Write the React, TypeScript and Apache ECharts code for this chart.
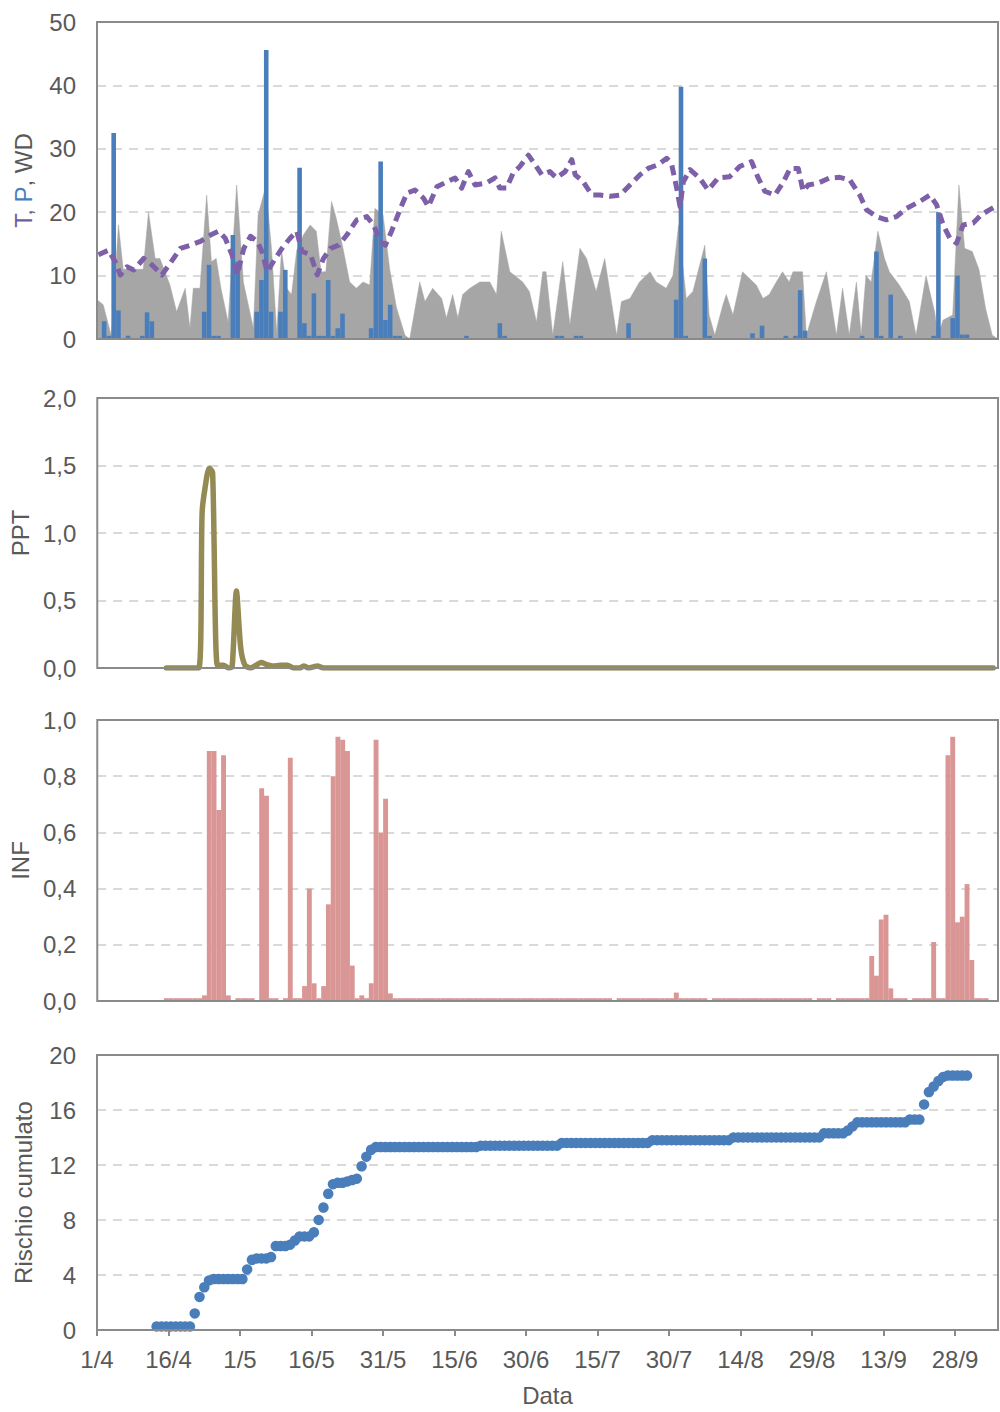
import React, { useEffect, useRef } from "react";
import * as echarts from "echarts";

// x axis: days counted from 1/4
const X_TICK_LABELS = ["1/4", "16/4", "1/5", "16/5", "31/5", "15/6", "30/6", "15/7", "30/7", "14/8", "29/8", "13/9", "28/9"];
const TICK_STEP_DAYS = 15;
const X_MAX_DAY = 189;

// WD (grey area): [day position, value]
const WD_POINTS: [number, number][] = [
  [0, 6.2], [1.3, 5.4], [3, 0.5], [4.5, 18], [5.5, 11], [7.6, 11], [9.7, 11], [10.8, 20], [12.2, 12.7], [13.2, 12.7],
  [15.3, 8.5], [16.7, 4.3], [18.5, 8], [19.5, 1.7], [20.2, 8], [21.6, 8], [23, 22.7], [24, 12.2], [25, 12.7], [26, 8],
  [27.5, 2.7], [29.3, 24.3], [30.7, 9], [32.8, 1.7], [33.8, 19.6], [35.4, 24], [36.6, 14.3], [37.7, 1], [38.7, 14], [39.8, 8],
  [40.8, 7], [41.9, 14], [43.3, 16.4], [44.7, 18], [46, 17], [47, 10.6], [48, 10.6], [49.2, 21.7], [50.2, 19], [51.6, 14.3],
  [53, 9], [54.4, 8], [55.8, 9], [57.2, 8.5], [58.3, 20.6], [60, 19.6], [61.4, 11], [62.8, 5], [64.6, 0.6], [65.6, 0],
  [67.7, 9], [68.8, 5.9], [70.4, 8], [72.3, 6.4], [73.3, 3.3], [74.6, 7], [75.7, 3.3], [76.7, 7], [78.2, 8], [80.3, 9],
  [82.4, 9], [83.8, 7], [84.8, 17], [86.6, 10.6], [89.3, 9], [90.7, 7.5], [92.2, 2.7], [93.5, 10.6], [94.2, 10.6], [95.6, 0.6],
  [97.7, 12.2], [99.2, 2.2], [101.3, 14.3], [102.7, 12.7], [104.7, 7.5], [106.5, 12.7], [109, 0.6], [110, 5.9], [111.8, 6.4], [113.8, 9],
  [116, 10.6], [117.3, 9], [119.4, 8], [120.8, 10], [122, 18], [123.6, 6.4], [125, 7.5], [127.5, 14.8], [128.4, 3.8], [129.6, 0.6],
  [131.3, 5.4], [132, 7], [133.4, 3.8], [135.4, 10.6], [138.3, 8.5], [139.7, 6.4], [141, 7], [142.5, 9], [143.8, 10.6], [145.2, 9],
  [146, 10.6], [148, 10.6], [148.8, 0.6], [150.9, 5.9], [153, 10.6], [155.1, 0.6], [156.4, 8], [157.8, 0.6], [159.3, 9], [160.3, 0.6],
  [161.3, 10], [162.4, 9], [163.8, 17], [165.2, 12.7], [166.2, 10.6], [168.3, 8.5], [170.4, 5.9], [171.8, 0.6], [173.9, 10], [175.7, 4.3],
  [176.4, 0.6], [177.5, 3], [179.5, 3.8], [180.8, 24.3], [182, 14.3], [183.6, 13.8], [185, 11], [186.4, 4.8], [187.8, 0.6], [189, 0],
];

// T (dashed purple line): [day position, value]
const T_POINTS: [number, number][] = [
  [0.3, 13.3], [2.4, 14], [3.8, 12.2], [4.9, 10.1], [6.3, 11.4], [7.7, 10.9], [9.8, 12.7], [11.5, 11.7], [13.6, 10.1], [15.4, 12],
  [17.5, 14.3], [19.6, 14.8], [21.7, 15.4], [23.8, 16.4], [25.5, 17], [26.9, 15.9], [28.3, 13.3], [29.4, 10.1], [30.8, 14.3], [32.2, 16.2],
  [33.6, 15.4], [34.6, 13.8], [35.7, 10.6], [37.4, 12.7], [38.8, 14.3], [40.5, 15.9], [41.9, 17], [43, 13.8], [44.8, 13.3], [46.2, 10.1],
  [47.5, 12.7], [49, 14.3], [50.7, 14.8], [52.4, 16.4], [54.5, 18.8], [56.6, 19.3], [58, 18], [59.4, 15.4], [60.5, 14.8], [61.9, 17.2],
  [63.6, 20.5], [65, 23], [66.7, 23.5], [68.5, 22.2], [69.5, 20.9], [71.3, 24], [73.4, 24.8], [75.1, 25.4], [76.5, 23.8], [77.9, 26.4],
  [79.3, 24.3], [81.7, 24.6], [83.5, 25.4], [84.5, 23.8], [85.9, 23.8], [87.3, 26.2], [88.7, 27.2], [90.5, 29], [91.9, 27.5], [93.3, 25.9],
  [95, 26.4], [96.4, 25.4], [98.2, 26.4], [99.6, 28.3], [100.3, 25.9], [102, 24.8], [103.8, 22.7], [105.5, 22.7], [107.6, 22.5], [109.7, 22.7],
  [111.8, 24.3], [113.9, 25.9], [115.6, 26.9], [117.7, 27.5], [119.5, 28.5], [120.5, 27.7], [121.6, 23.8], [122.3, 20.9], [123, 24.8], [124.4, 26.7],
  [126.4, 25.4], [128.2, 23.5], [130.3, 25.4], [132.7, 25.6], [134.8, 27.2], [137.3, 28], [138.7, 25.4], [140.1, 23.3], [142.2, 22.7], [144, 24.8],
  [145.4, 26.9], [147.1, 26.9], [148.1, 23.3], [149.2, 24.3], [151.3, 24.6], [153.7, 25.4], [155.8, 25.5], [157.9, 25.1], [160, 22.7], [161.4, 20.4],
  [163.5, 19.3], [165.6, 18.8], [167.7, 19.3], [169.8, 20.6], [172.6, 21.7], [174.7, 22.7], [176.1, 21.2], [177.5, 18], [178.9, 15.9], [180.3, 15.1],
  [181.7, 18], [183.8, 18.3], [185.5, 19.6], [187.3, 20.4], [188.7, 21],
];

// P (blue bars): day index and value
const P_DAYS = [1, 2, 3, 4, 6, 9, 10, 11, 22, 23, 24, 25, 28, 29, 33, 34, 35, 36, 38, 39, 42, 43, 44, 45, 46, 47, 48, 49, 50, 51,
  57, 58, 59, 60, 61, 62, 63, 77, 84, 85, 96, 97, 100, 101, 111, 121, 122, 123, 127, 128, 137, 139, 144, 146, 147, 148, 160, 163, 164, 166,
  168, 175, 176, 179, 180, 181, 182];
const P_VALUES = [2.8, 0.5, 32.5, 4.5, 0.5, 0.5, 4.2, 2.8, 4.3, 11.7, 0.5, 0.5, 16.4, 12.2, 4.3, 9.3, 45.6, 4.3, 4.3, 10.9, 27, 2.5, 0.5, 7.2, 0.5, 0.5, 9.3, 0.5, 1.7, 4,
  1.7, 16.5, 28, 3, 5.4, 0.5, 0.5, 0.5, 2.5, 0.5, 0.5, 0.5, 0.5, 0.5, 2.5, 6.2, 39.8, 0.5, 12.7, 0.5, 0.9, 2.1, 0.5, 0.5, 7.7, 1.3, 0.5, 13.8, 0.5, 7,
  0.5, 0.5, 20, 3.3, 10, 0.7, 0.7];

// PPT (olive line): [day position, value]
const PPT_POINTS: [number, number][] = [
  [14.5, 0], [21.3, 0], [22.0, 1.15], [22.6, 1.33], [23.5, 1.48], [24.2, 1.45], [25.2, 0.02], [26.5, 0.02], [27.6, 0], [28.3, 0.01],
  [29.2, 0.57], [30.1, 0.15], [31.0, 0.02], [32.2, 0], [33.5, 0.025], [34.4, 0.04], [35.6, 0.025], [37.0, 0.015], [38.4, 0.02], [39.9, 0.02],
  [41.2, 0], [42.5, 0], [43.3, 0.015], [44.4, 0], [45.5, 0.01], [46.2, 0.015], [47.5, 0], [188, 0],
];

// INF (pink bars): one value per day, day 0 = 1/4
const INF_VALUES = [
  0, 0, 0, 0, 0, 0, 0, 0, 0, 0,
  0, 0, 0, 0, 0.01, 0.01, 0.01, 0.01, 0.01, 0.01,
  0.01, 0.01, 0.02, 0.89, 0.89, 0.68, 0.875, 0.02, 0, 0.01,
  0.01, 0.01, 0.01, 0, 0.757, 0.73, 0.01, 0.01, 0, 0.01,
  0.866, 0.01, 0.01, 0.053, 0.40, 0.063, 0.01, 0.053, 0.344, 0.80,
  0.94, 0.93, 0.89, 0.126, 0.01, 0.02, 0.01, 0.063, 0.93, 0.60,
  0.72, 0.027, 0.01, 0.01, 0.01, 0.01, 0.01, 0.01, 0.01, 0.01,
  0.01, 0.01, 0.01, 0.01, 0.01, 0.01, 0.01, 0.01, 0.01, 0.01,
  0.01, 0.01, 0.01, 0.01, 0.01, 0.01, 0.01, 0.01, 0.01, 0.01,
  0.01, 0.01, 0.01, 0.01, 0.01, 0.01, 0.01, 0.01, 0.01, 0.01,
  0.01, 0.01, 0.01, 0.01, 0.01, 0.01, 0.01, 0.01, 0, 0.01,
  0.01, 0.01, 0.01, 0.01, 0.01, 0.01, 0.01, 0.01, 0.01, 0.01,
  0.01, 0.03, 0.01, 0.01, 0.01, 0.01, 0.01, 0.01, 0, 0.01,
  0.01, 0.01, 0.01, 0.01, 0.01, 0.01, 0.01, 0.01, 0.01, 0.01,
  0.01, 0.01, 0.01, 0.01, 0.01, 0.01, 0.01, 0.01, 0.01, 0.01,
  0, 0.01, 0.01, 0.01, 0, 0.01, 0.01, 0.01, 0.01, 0.01,
  0.01, 0.01, 0.16, 0.09, 0.29, 0.307, 0.045, 0.01, 0.01, 0.01,
  0, 0.01, 0.01, 0.01, 0.01, 0.21, 0.01, 0.01, 0.875, 0.94,
  0.28, 0.30, 0.416, 0.146, 0.01, 0.01, 0.01, 0, 0,
];

// Rischio cumulato: one value per day from RISK_START_DAY
const RISK_START_DAY = 12;
const RISK_VALUES = [
  0.25, 0.25, 0.25, 0.25, 0.25, 0.25, 0.25, 0.25, 1.2, 2.4,
  3.1, 3.6, 3.7, 3.7, 3.7, 3.7, 3.7, 3.7, 3.7, 4.4,
  5.1, 5.2, 5.2, 5.2, 5.3, 6.1, 6.1, 6.1, 6.2, 6.5,
  6.8, 6.8, 6.8, 7.1, 8.0, 8.9, 9.9, 10.6, 10.7, 10.7,
  10.8, 10.9, 11.0, 11.9, 12.6, 13.1, 13.3, 13.3, 13.3, 13.3,
  13.3, 13.3, 13.3, 13.3, 13.3, 13.3, 13.3, 13.3, 13.3, 13.3,
  13.3, 13.3, 13.3, 13.3, 13.3, 13.3, 13.3, 13.3, 13.4, 13.4,
  13.4, 13.4, 13.4, 13.4, 13.4, 13.4, 13.4, 13.4, 13.4, 13.4,
  13.4, 13.4, 13.4, 13.4, 13.4, 13.6, 13.6, 13.6, 13.6, 13.6,
  13.6, 13.6, 13.6, 13.6, 13.6, 13.6, 13.6, 13.6, 13.6, 13.6,
  13.6, 13.6, 13.6, 13.6, 13.8, 13.8, 13.8, 13.8, 13.8, 13.8,
  13.8, 13.8, 13.8, 13.8, 13.8, 13.8, 13.8, 13.8, 13.8, 13.8,
  13.8, 14.0, 14.0, 14.0, 14.0, 14.0, 14.0, 14.0, 14.0, 14.0,
  14.0, 14.0, 14.0, 14.0, 14.0, 14.0, 14.0, 14.0, 14.0, 14.0,
  14.3, 14.3, 14.3, 14.3, 14.3, 14.5, 14.8, 15.1, 15.1, 15.1,
  15.1, 15.1, 15.1, 15.1, 15.1, 15.1, 15.1, 15.1, 15.3, 15.3,
  15.3, 16.4, 17.3, 17.7, 18.1, 18.4, 18.5, 18.5, 18.5, 18.5,
  18.5,
];

const FONT = "'Liberation Sans', Arial, Helvetica, sans-serif";
const FONT_SIZE = 24;
const TEXT = "#595959";
const FRAME = "#8a8a8a";
const GRIDLINE = "#cdcdcd";
const BLUE = "#4A7EBB";
const PURPLE = "#7E60A8";
const GREY_AREA = "#A6A6A6";
const OLIVE = "#948A54";
const PINK = "#D99694";

const comma1 = (v: number) => v.toFixed(1).replace(".", ",");

export default function App() {
  const ref = useRef<HTMLDivElement>(null);

  useEffect(() => {
    if (!ref.current) return;
    const chart = echarts.init(ref.current, undefined, { renderer: "svg" });

    const tickDays = X_TICK_LABELS.map((_, i) => i * TICK_STEP_DAYS);
    const mid = (d: number) => d + 0.5; // Excel date axis: each day drawn in the middle of its slot

    const grids = [
      { left: 97, top: 22, width: 901, height: 317 },
      { left: 97, top: 398, width: 901, height: 270 },
      { left: 97, top: 720, width: 901, height: 281 },
      { left: 97, top: 1055, width: 901, height: 275 },
    ].map((g) => ({ ...g, show: true, borderColor: FRAME, borderWidth: 2, backgroundColor: "transparent", z: 10 }));

    const xAxes = [0, 1, 2, 3].map((i) => {
      const bottom = i === 3;
      return {
        type: "value",
        gridIndex: i,
        min: 0,
        max: X_MAX_DAY,
        interval: TICK_STEP_DAYS,
        splitLine: { show: false },
        axisLine: { show: bottom, lineStyle: { color: FRAME, width: 2 } },
        axisTick: { show: bottom, customValues: tickDays, length: 6, lineStyle: { color: FRAME, width: 2 } },
        axisLabel: {
          show: bottom,
          customValues: tickDays,
          formatter: (v: number) => X_TICK_LABELS[Math.round(v / TICK_STEP_DAYS)] ?? "",
          fontSize: FONT_SIZE,
          color: TEXT,
          fontFamily: FONT,
          margin: 17,
        },
        name: bottom ? "Data" : "",
        nameLocation: "middle",
        nameGap: 53,
        nameTextStyle: { fontSize: FONT_SIZE, color: TEXT, fontFamily: FONT },
      };
    });

    const yAxis = (i: number, max: number, interval: number, name: string, fmt?: (v: number) => string, rich?: any) => ({
      type: "value",
      gridIndex: i,
      min: 0,
      max,
      interval,
      axisLine: { show: false },
      axisTick: { show: false },
      splitLine: { show: true, lineStyle: { color: GRIDLINE, type: [9, 7], width: 1.5 } },
      axisLabel: { fontSize: FONT_SIZE, color: TEXT, fontFamily: FONT, margin: 21, formatter: fmt },
      name,
      nameLocation: "middle",
      nameGap: 62,
      nameTextStyle: { fontSize: FONT_SIZE, color: TEXT, fontFamily: FONT, rich },
    });

    const richT = {
      t: { color: "#6E5E9C", fontSize: FONT_SIZE, fontFamily: FONT },
      p: { color: BLUE, fontSize: FONT_SIZE, fontFamily: FONT },
      w: { color: TEXT, fontSize: FONT_SIZE, fontFamily: FONT },
    };

    const option: any = {
      animation: false,
      backgroundColor: "#ffffff",
      grid: grids,
      xAxis: xAxes,
      yAxis: [
        yAxis(0, 50, 10, "{t|T, }{p|P}{w|, WD}", undefined, richT),
        yAxis(1, 2, 0.5, "PPT", comma1),
        yAxis(2, 1, 0.2, "INF", comma1),
        yAxis(3, 20, 4, "Rischio cumulato"),
      ],
      series: [
        {
          name: "WD",
          type: "line",
          xAxisIndex: 0,
          yAxisIndex: 0,
          data: WD_POINTS,
          symbol: "none",
          lineStyle: { width: 0.5, color: GREY_AREA },
          areaStyle: { color: GREY_AREA, opacity: 1 },
          z: 1,
        },
        {
          name: "P",
          type: "bar",
          xAxisIndex: 0,
          yAxisIndex: 0,
          data: P_DAYS.map((d, k) => [mid(d), P_VALUES[k]]),
          barWidth: 4.6,
          itemStyle: { color: BLUE },
          z: 2,
        },
        {
          name: "T",
          type: "line",
          xAxisIndex: 0,
          yAxisIndex: 0,
          data: T_POINTS,
          symbol: "none",
          lineStyle: { width: 5, color: PURPLE, type: [10, 6], cap: "butt", join: "round" },
          z: 3,
        },
        {
          name: "PPT",
          type: "line",
          xAxisIndex: 1,
          yAxisIndex: 1,
          data: PPT_POINTS,
          symbol: "none",
          smooth: 0.25,
          lineStyle: { width: 5.5, color: OLIVE, join: "round", cap: "round" },
          z: 3,
        },
        {
          name: "INF",
          type: "bar",
          xAxisIndex: 2,
          yAxisIndex: 2,
          data: INF_VALUES.map((v, d) => [mid(d), v]).filter((p) => p[1] > 0),
          barWidth: 4.9,
          itemStyle: { color: PINK },
          z: 2,
        },
        {
          name: "Rischio cumulato",
          type: "scatter",
          xAxisIndex: 3,
          yAxisIndex: 3,
          data: RISK_VALUES.map((v, k) => [mid(RISK_START_DAY + k), v]),
          symbol: "circle",
          symbolSize: 10.5,
          itemStyle: { color: BLUE, opacity: 1 },
          z: 3,
        },
      ],
    };

    chart.setOption(option);
    return () => chart.dispose();
  }, []);

  return (
    <div
      ref={ref}
      style={{ position: "fixed", left: 0, top: 0, width: 1000, height: 1412, background: "#ffffff" }}
    />
  );
}
